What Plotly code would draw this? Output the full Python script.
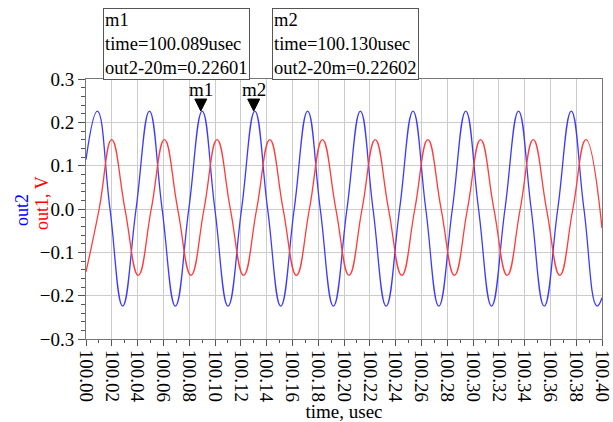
import plotly.graph_objects as go

# ---- data ----
out2_time = [100.000, 100.0088, 100.0186, 100.0284, 100.0388, 100.0492, 100.0590, 100.0693,
             100.0797, 100.0901, 100.0999, 100.1101, 100.1206, 100.1309, 100.1408, 100.1510,
             100.1614, 100.1718, 100.1816, 100.1918, 100.2023, 100.2127, 100.2225, 100.2327,
             100.2431, 100.2535, 100.2634, 100.2735, 100.2840, 100.2944, 100.3043, 100.3144,
             100.3248, 100.3353, 100.3451, 100.3552, 100.3657, 100.3762, 100.3860, 100.3961,
             100.4000]
out2_value = [0.114, 0.226, 0.0, -0.224, 0.0, 0.226, 0.0, -0.224,
              0.0, 0.226, 0.0, -0.224, 0.0, 0.226, 0.0, -0.224,
              0.0, 0.226, 0.0, -0.224, 0.0, 0.226, 0.0, -0.224,
              0.0, 0.226, 0.0, -0.224, 0.0, 0.226, 0.0, -0.224,
              0.0, 0.226, 0.0, -0.224, 0.0, 0.226, 0.0, -0.224,
              -0.205]

out1_time = [100.000, 100.0102, 100.0199, 100.0302, 100.0405, 100.0506, 100.0608, 100.0711,
             100.0814, 100.0915, 100.1016, 100.1119, 100.1222, 100.1323, 100.1425, 100.1528,
             100.1631, 100.1732, 100.1833, 100.1937, 100.2039, 100.2140, 100.2242, 100.2345,
             100.2448, 100.2549, 100.2650, 100.2753, 100.2856, 100.2957, 100.3059, 100.3162,
             100.3265, 100.3366, 100.3467, 100.3570, 100.3673, 100.3774, 100.3876, 100.4000]
out1_value = [-0.145, 0.0, 0.160, 0.0, -0.153, 0.0, 0.160, 0.0,
              -0.153, 0.0, 0.160, 0.0, -0.153, 0.0, 0.160, 0.0,
              -0.153, 0.0, 0.160, 0.0, -0.153, 0.0, 0.160, 0.0,
              -0.153, 0.0, 0.160, 0.0, -0.153, 0.0, 0.160, 0.0,
              -0.153, 0.0, 0.160, 0.0, -0.153, 0.0, 0.160, -0.044]

marker_names = ["m1", "m2"]
marker_time = [100.089, 100.130]
marker_value = [0.22601, 0.22602]

x_ticks = [100.00 + 0.02 * i for i in range(21)]
x_tick_labels = ["%.2f" % v for v in x_ticks]

y_title_parts = ["out2", "out1, V"]
y_title_colors = ["blue", "red"]

FONT = "Liberation Serif"
FS = 19
BOX_FS = 18.5
YT_FS = 18

ML, MR, MT, MB = 86, 11, 79, 83
W, H = 613, 422

fig = go.Figure()
fig.add_trace(go.Scatter(x=out2_time, y=out2_value, mode="lines",
                         line=dict(color="#3b3bff", width=1.3, shape="spline", smoothing=1.3),
                         showlegend=False, hoverinfo="skip"))
fig.add_trace(go.Scatter(x=out1_time, y=out1_value, mode="lines",
                         line=dict(color="#ff3b3b", width=1.3, shape="spline", smoothing=1.3),
                         showlegend=False, hoverinfo="skip"))

# markers (triangles pointing down at the marked point) and labels
for name, t, v in zip(marker_names, marker_time, marker_value):
    fig.add_shape(type="path", xref="x", yref="y", xsizemode="pixel", ysizemode="pixel",
                  xanchor=t, yanchor=v, path="M-6,12 L6,12 L0,0 Z",
                  fillcolor="black", line=dict(color="black", width=1))
    fig.add_annotation(x=t, y=v, xref="x", yref="y", text=name, showarrow=False,
                       yanchor="bottom", yshift=9, font=dict(family=FONT, size=FS, color="black"))

pw = W - ML - MR
ph = H - MT - MB

# marker readout boxes above the plot (pixel positions converted to paper)
box_left_px = [103, 272]
box_top_px = 8
for bx, name, t, v in zip(box_left_px, marker_names, marker_time, marker_value):
    txt = "%s<br>time=%.3fusec<br>out2-20m=%.5f" % (name, t, v)
    fig.add_annotation(x=(bx - ML) / pw, y=(H - MB - box_top_px) / ph, xref="paper", yref="paper",
                       text=txt, showarrow=False,
                       align="left", xanchor="left", yanchor="top",
                       font=dict(family=FONT, size=BOX_FS, color="black"),
                       bordercolor="#555555", borderwidth=1, borderpad=1, bgcolor="white")

# two-colour rotated y-axis title
y_title_x_px = [22, 42]
y_title_y_px = [210, 203]
for txt, col, xp, yp in zip(y_title_parts, y_title_colors, y_title_x_px, y_title_y_px):
    fig.add_annotation(x=(xp - ML) / pw, y=(H - MB - yp) / ph, xref="paper", yref="paper", text=txt,
                       textangle=-90, showarrow=False, xanchor="center", yanchor="middle",
                       font=dict(family=FONT, size=YT_FS, color=col))

fig.update_layout(
    width=W, height=H,
    margin=dict(l=ML, r=MR, t=MT, b=MB, autoexpand=False),
    paper_bgcolor="white", plot_bgcolor="white",
    font=dict(family=FONT, size=FS, color="black"),
)
fig.update_xaxes(range=[100.0, 100.4], tickvals=x_ticks, ticktext=x_tick_labels, tickangle=90,
                 automargin=False,
                 showgrid=True, gridcolor="#cccccc", gridwidth=1,
                 showline=True, linecolor="#777777", linewidth=1, mirror=True,
                 ticks="outside", ticklen=6, tickcolor="#555555",
                 minor=dict(dtick=0.01, ticks="outside", ticklen=3, tickcolor="#555555", showgrid=False),
                 tickfont=dict(family=FONT, size=FS),
                 title=dict(text="time, usec", font=dict(family=FONT, size=FS), standoff=2),
                 zeroline=False)
fig.update_yaxes(range=[-0.3, 0.3], dtick=0.1, tick0=0, tickformat=".1f",
                 automargin=False,
                 showgrid=True, gridcolor="#cccccc", gridwidth=1,
                 showline=True, linecolor="#777777", linewidth=1, mirror=True,
                 ticks="outside", ticklen=7, tickcolor="#555555",
                 minor=dict(dtick=0.02, ticks="outside", ticklen=4, tickcolor="#555555", showgrid=False),
                 tickfont=dict(family=FONT, size=FS),
                 zeroline=False)

fig.write_html("out.html", config={"displayModeBar": False},
               post_script="document.body.style.margin='0';")
